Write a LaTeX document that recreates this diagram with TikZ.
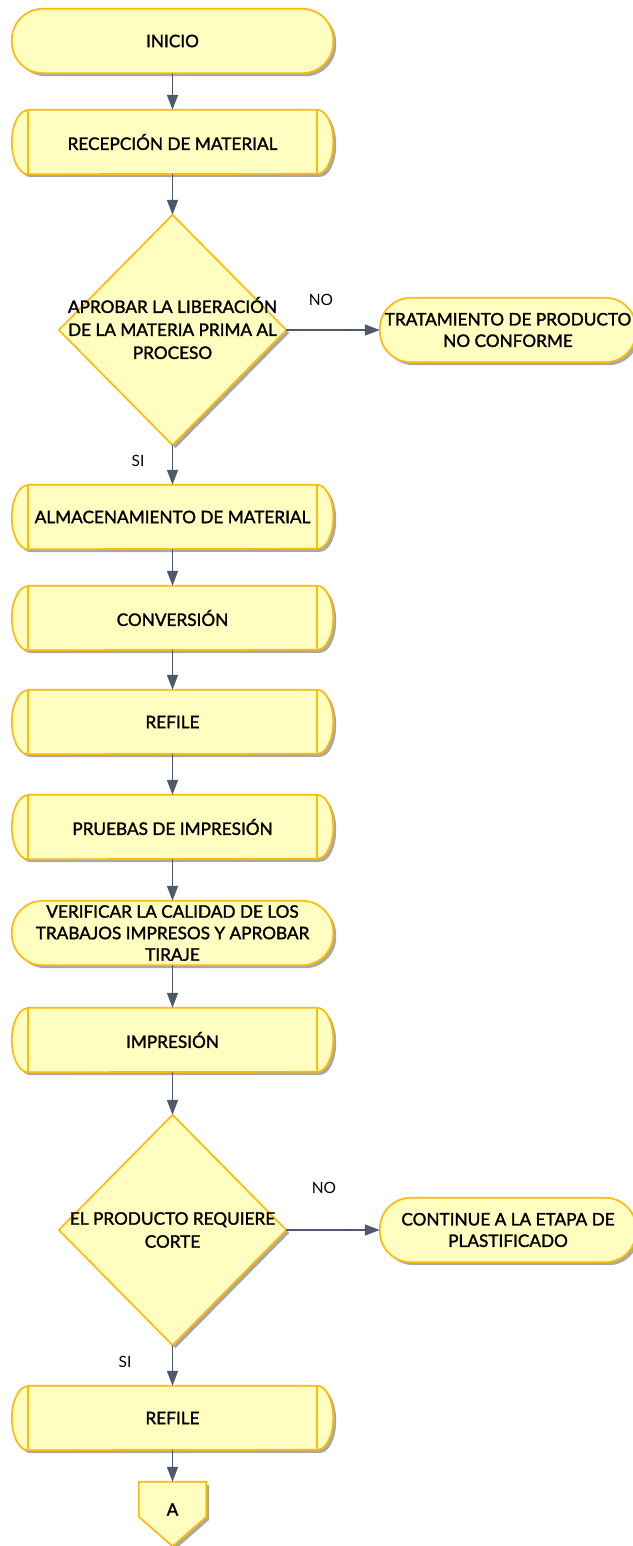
\documentclass[tikz,border=0pt]{standalone}
\usepackage{fontspec}
\setmainfont{Lato}
\newfontfamily\boxfont{Lato}[FakeBold=1.6]
\usetikzlibrary{arrows.meta}
\definecolor{boxfill}{HTML}{FFFDC0}
\definecolor{boxedge}{HTML}{FCBC0C}
\definecolor{flow}{HTML}{4E596B}
\definecolor{shade}{HTML}{A8A8A8}
\pgfdeclarelayer{bg}
\pgfsetlayers{bg,main}

\tikzset{
  box/.style={draw=none, inner sep=0pt, minimum width=321pt, minimum height=64pt,
              align=center, font=\boxfont\fontsize{17.2}{21.5}\selectfont},
  sidebox/.style={box, minimum width=256pt},
  decision/.style={draw=none, inner sep=0pt, minimum width=227pt, minimum height=230pt},
  dectext/.style={align=center, font=\boxfont\fontsize{17.2}{23}\selectfont},
  outline/.style={draw=boxedge, line width=1.7pt, fill=boxfill},
  shadowfill/.style={fill=shade, draw=none},
  inner/.style={draw=boxedge, line width=1.7pt},
  flowline/.style={draw=flow, line width=1.6pt, -{Triangle[length=15pt,width=11pt]}},
  lbl/.style={font=\fontsize{15.5}{17}\selectfont}
}

% predefined-process outline: elliptical caps, #1 node, #2 offset
\newcommand\procpath[2]{%
  ([xshift=16pt,shift={#2}]#1.north west) -- ([xshift=-16pt,shift={#2}]#1.north east)
  arc[start angle=90,end angle=-90,x radius=16pt,y radius=32pt]
  -- ([xshift=16pt,shift={#2}]#1.south west)
  arc[start angle=270,end angle=90,x radius=16pt,y radius=32pt] -- cycle}
\newcommand\procshape[1]{%
  \fill[shadowfill] \procpath{#1}{(3pt,-3pt)};
  \path[outline] \procpath{#1}{(0pt,0pt)};
  \draw[inner] ([xshift=16pt]#1.north west) -- ([xshift=16pt]#1.south west);
  \draw[inner] ([xshift=-16pt]#1.north east) -- ([xshift=-16pt]#1.south east);}
% terminator: stadium shape
\newcommand\termpath[2]{%
  [rounded corners=31pt] ([shift={#2}]#1.north west) rectangle ([shift={#2}]#1.south east)}
\newcommand\termshape[1]{%
  \fill[shadowfill] \termpath{#1}{(3pt,-3pt)};
  \path[outline] \termpath{#1}{(0pt,0pt)};}
% decision diamond
\newcommand\diapath[2]{%
  ([shift={#2}]#1.north) -- ([shift={#2}]#1.east) -- ([shift={#2}]#1.south)
  -- ([shift={#2}]#1.west) -- cycle}
\newcommand\diashape[1]{%
  \fill[shadowfill] \diapath{#1}{(3pt,-3pt)};
  \path[outline, line join=round] \diapath{#1}{(0pt,0pt)};}
% off-page connector
\newcommand\offpath[2]{%
  ([shift={#2}]#1.north west) -- ([shift={#2}]#1.north east)
  -- ([yshift=-35pt,shift={#2}]#1.north east) -- ([shift={#2}]#1.south)
  -- ([yshift=-35pt,shift={#2}]#1.north west) -- cycle}

\begin{document}
\begin{tikzpicture}[x=1pt,y=1pt]
\useasboundingbox (0,0) rectangle (632,-1546);

% main column
\node[box] (inicio) at (172.5,-41) {INICIO};
\node[box] (recep) at (172.5,-142) {RECEPCIÓN DE MATERIAL};
\node[decision] (d1) at (172.5,-330) {};
\node[dectext] (d1t) at (172.5,-328) {APROBAR LA LIBERACIÓN\\DE LA MATERIA PRIMA AL\\PROCESO};
\node[sidebox] (trat) at (508,-330) {TRATAMIENTO DE PRODUCTO\\NO CONFORME};
\node[box] (alm) at (172.5,-517) {ALMACENAMIENTO DE MATERIAL};
\node[box] (conv) at (172.5,-618) {CONVERSIÓN};
\node[box] (ref1) at (172.5,-722) {REFILE};
\node[box] (prue) at (172.5,-827) {PRUEBAS DE IMPRESIÓN};
\node[box] (verif) at (172.5,-933) {VERIFICAR LA CALIDAD DE LOS\\TRABAJOS IMPRESOS Y APROBAR\\TIRAJE};
\node[box] (impr) at (172.5,-1040) {IMPRESIÓN};
\node[decision] (d2) at (172.5,-1230) {};
\node[dectext] (d2t) at (172.5,-1230) {EL PRODUCTO REQUIERE\\CORTE};
\node[sidebox] (cont) at (508,-1230) {CONTINUE A LA ETAPA DE\\PLASTIFICADO};
\node[box] (ref2) at (172.5,-1418) {REFILE};
\node[draw=none, inner sep=0pt, minimum width=67pt, minimum height=64pt,
      font=\boxfont\fontsize{17.2}{18}\selectfont] (conA) at (172.5,-1514) {\raisebox{9pt}{A}};

% branch labels
\node[lbl] (no1) at (321,-300) {NO};
\node[lbl] (si1) at (138,-461) {SI};
\node[lbl] (no2) at (324,-1188) {NO};
\node[lbl] (si2) at (125,-1362) {SI};

\begin{pgfonlayer}{bg}
  \termshape{inicio}
  \procshape{recep}
  \diashape{d1}
  \termshape{trat}
  \procshape{alm}
  \procshape{conv}
  \procshape{ref1}
  \procshape{prue}
  \termshape{verif}
  \procshape{impr}
  \diashape{d2}
  \termshape{cont}
  \procshape{ref2}
  \fill[shadowfill] \offpath{conA}{(3pt,-3pt)};
  \path[outline] \offpath{conA}{(0pt,0pt)};
\end{pgfonlayer}

% connectors
\draw[flowline] (inicio.south) -- (recep.north);
\draw[flowline] (recep.south) -- (d1.north);
\draw[flowline] (d1.east) -- (trat.west);
\draw[flowline] (d1.south) -- (alm.north);
\draw[flowline] (alm.south) -- (conv.north);
\draw[flowline] (conv.south) -- (ref1.north);
\draw[flowline] (ref1.south) -- (prue.north);
\draw[flowline] (prue.south) -- (verif.north);
\draw[flowline] (verif.south) -- (impr.north);
\draw[flowline] (impr.south) -- (d2.north);
\draw[flowline] (d2.east) -- (cont.west);
\draw[flowline] (d2.south) -- (ref2.north);
\draw[flowline] (ref2.south) -- (conA.north);
\end{tikzpicture}
\end{document}
